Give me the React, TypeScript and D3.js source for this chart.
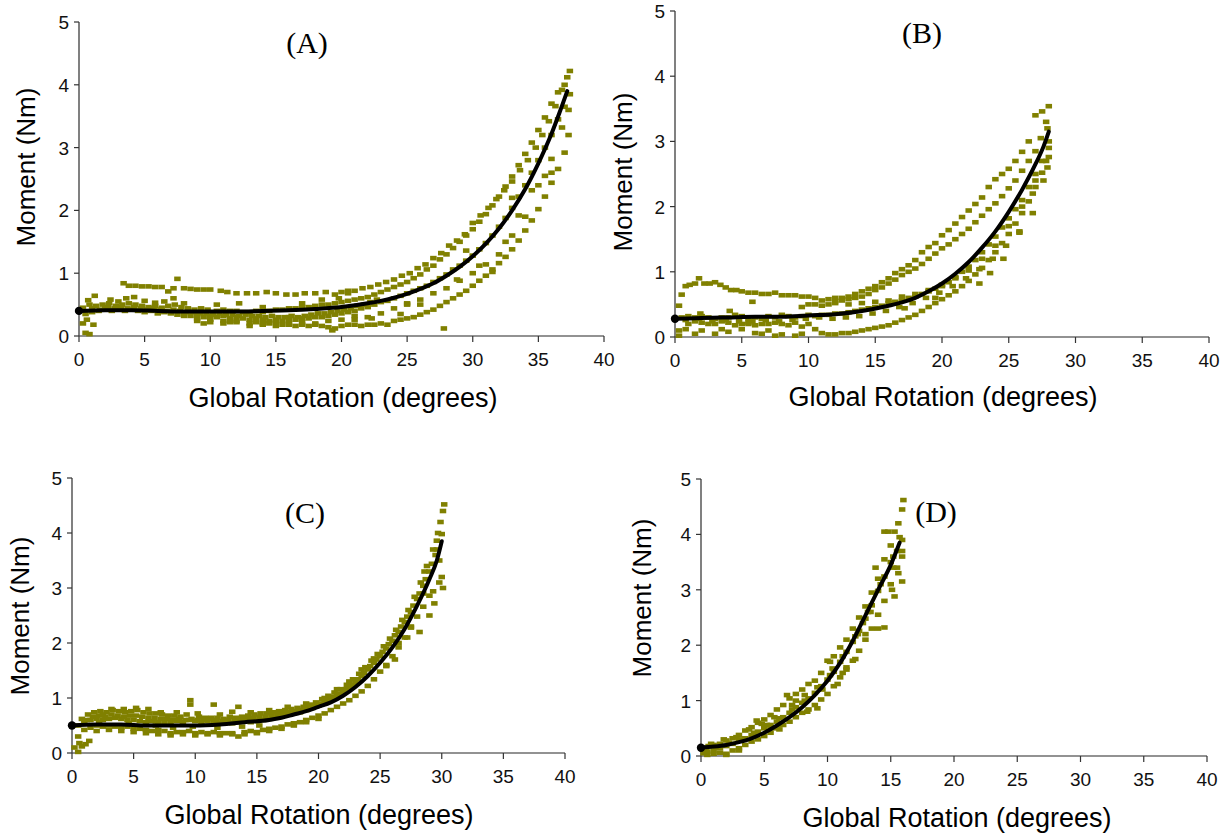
import React from "react";
import * as d3 from "d3";

type P = [number, number];

const xTickValues = [0, 5, 10, 15, 20, 25, 30, 35, 40];
const yTickValues = [0, 1, 2, 3, 4, 5];
const panelLabels = ["(A)", "(B)", "(C)", "(D)"];
const xTitle = "Global Rotation (degrees)";
const yTitle = "Moment (Nm)";

// ---------- Panel A ----------
const fitA: P[] = [[0,0.4],[2,0.41],[4,0.41],[6,0.4],[8,0.39],[10,0.39],[12,0.39],[14,0.4],[16,0.41],[18,0.43],[20,0.46],[22,0.52],[23,0.56],[24,0.61],[25,0.67],[26,0.75],[27,0.84],[28,0.96],[29,1.1],[30,1.27],[31,1.47],[32,1.71],[33,2.0],[34,2.34],[35,2.75],[36,3.22],[36.6,3.55],[37.2,3.9]];
const a1: P[] = [[3.4,0.84],[3.8,0.8],[4.3,0.8],[4.8,0.79],[5.3,0.79],[5.8,0.78],[6.3,0.78],[6.8,0.71],[7.2,0.76],[7.5,0.91],[8,0.76],[8.5,0.75],[9,0.74],[9.5,0.74],[10,0.74],[10.8,0.72],[11.3,0.7],[12,0.68],[12.8,0.68],[13.5,0.68],[14.3,0.7],[15,0.68],[15.8,0.66],[16.5,0.66],[17.2,0.68],[18,0.68],[18.8,0.7],[19.5,0.66],[20,0.7],[20.5,0.72],[21,0.72],[21.6,0.76],[22.2,0.78],[22.8,0.82],[23.4,0.86],[24,0.9],[24.6,0.96],[25.2,1.0],[25.8,1.08],[26.4,1.14],[27,1.24],[27.6,1.32],[28.2,1.44],[28.8,1.52],[29.4,1.62],[30,1.8],[30.6,1.92],[31.2,2.04],[31.8,2.18],[32.4,2.32],[33,2.46],[33.6,2.64],[34.2,2.8],[34.8,3.0],[35.3,3.2],[35.8,3.42],[36.3,3.66],[36.8,3.92],[37.2,4.12],[37.4,4.22]];
const a2: P[] = [[0.3,0.45],[0.8,0.5],[1.3,0.48],[1.8,0.5],[2.3,0.52],[2.8,0.48],[3.3,0.5],[3.8,0.52],[4.3,0.5],[4.8,0.48],[5.3,0.46],[5.8,0.48],[6.3,0.45],[6.8,0.48],[7.3,0.5],[7.8,0.46],[8.3,0.44],[8.8,0.42],[9.3,0.44],[9.8,0.42],[10.5,0.4],[11,0.42],[11.5,0.4],[12,0.4],[12.5,0.38],[13,0.38],[13.5,0.4],[14,0.38],[14.5,0.4],[15,0.42],[15.5,0.42],[16,0.44],[16.5,0.44],[17,0.46],[17.5,0.46],[18,0.48],[18.5,0.5],[19,0.5],[19.5,0.52],[20,0.54],[20.5,0.56],[21,0.58],[21.5,0.6],[22,0.62],[22.5,0.66],[23,0.7],[23.5,0.74],[24,0.78],[24.5,0.82],[25,0.86],[25.5,0.92],[26,0.98],[26.5,1.06],[27,1.12],[27.5,1.22],[28,1.3],[28.5,1.4],[29,1.5],[29.5,1.6],[30,1.7],[30.5,1.82],[31,1.94],[31.5,2.08],[32,2.22],[32.5,2.38],[33,2.54],[33.5,2.72],[34,2.9],[34.5,3.08],[35,3.28],[35.5,3.48],[36,3.7],[36.5,3.88],[37,4.0]];
const a3: P[] = [[0.5,0.35],[1,0.38],[1.5,0.4],[2,0.42],[2.5,0.4],[3,0.42],[3.5,0.4],[4,0.42],[4.5,0.4],[5,0.38],[5.5,0.4],[6,0.36],[6.5,0.38],[7,0.36],[7.5,0.34],[8,0.36],[8.5,0.32],[9,0.34],[9.5,0.3],[10,0.32],[10.5,0.3],[11,0.32],[11.5,0.28],[12,0.3],[12.5,0.28],[13,0.26],[13.5,0.28],[14,0.26],[14.5,0.24],[15,0.26],[15.5,0.24],[16,0.26],[16.5,0.26],[17,0.28],[17.5,0.28],[18,0.3],[18.5,0.3],[19,0.32],[19.5,0.34],[20,0.36],[20.5,0.38],[21,0.4],[21.5,0.44],[22,0.46],[22.5,0.5],[23,0.54],[23.5,0.56],[24,0.6],[24.5,0.64],[25,0.68],[25.5,0.72],[26,0.76],[26.5,0.8],[27,0.86],[27.5,0.92],[28,0.98],[28.5,1.06],[29,1.12],[29.5,1.2],[30,1.28],[30.5,1.38],[31,1.48],[31.5,1.6],[32,1.74],[32.5,1.88],[33,2.04],[33.5,2.22],[34,2.4],[34.5,2.6],[35,2.8],[35.5,3.0],[36,3.2],[36.5,3.45],[37,3.65],[37.4,3.85]];
const a4: P[] = [[8,0.32],[9,0.28],[10,0.26],[11,0.24],[11.5,0.22],[12,0.24],[13,0.2],[13.5,0.22],[14,0.18],[14.5,0.2],[15,0.16],[15.5,0.18],[16,0.18],[16.5,0.16],[17,0.18],[17.5,0.16],[18,0.18],[18.5,0.16],[19,0.14],[19.5,0.12],[20,0.16],[20.5,0.18],[21,0.18],[21.5,0.16],[22,0.18],[22.5,0.18],[23,0.2],[23.5,0.18],[24,0.24],[24.5,0.26],[25,0.28],[25.5,0.3],[26,0.34],[26.5,0.38],[27,0.42],[27.5,0.48],[28,0.54],[28.5,0.6],[29,0.66],[29.5,0.72],[30,0.8],[30.5,0.88],[31,0.96],[31.5,1.06],[32,1.16],[32.5,1.26],[33,1.38],[33.5,1.52],[34,1.68],[34.5,1.84],[35,2.02],[35.5,2.22],[36,2.44],[36.5,2.66],[37,2.92],[37.3,3.2]];
const a5: P[] = [[0.3,0.2],[0.5,0.05],[0.8,0.03],[0.6,0.26],[1.1,0.18],[1.2,0.64],[0.7,0.57],[2,0.46],[2.4,0.58],[3,0.55],[3.6,0.6],[4.2,0.62],[5,0.56],[5.8,0.53],[6.5,0.55],[7.2,0.6],[8,0.52],[9.5,0.2],[10.5,0.5],[12.2,0.52],[14,0.46],[16,0.3],[17,0.52],[18.5,0.58],[19.3,0.09],[21,0.32],[22.3,0.28],[27.8,0.12],[20.5,0.68],[19.8,0.6],[30.5,1.12],[31.5,1.02],[32.5,1.5],[33.5,1.92],[34.5,2.32],[36,2.82],[36.8,3.32],[33,2.2],[26,0.5],[28.8,0.9],[24.5,0.35],[25,0.52],[29.5,1.36],[35.5,2.55],[37.3,3.6]];
const a6: P[] = [[1,0.44],[1.6,0.42],[2.2,0.46],[2.7,0.44],[3.2,0.46],[3.7,0.44],[4.2,0.46],[4.7,0.44],[5.2,0.42],[5.7,0.44],[6.2,0.42],[6.7,0.4],[7.2,0.42],[7.7,0.4],[8.2,0.38],[8.7,0.38],[9.2,0.36],[9.7,0.36],[10.2,0.34],[10.7,0.36],[11.2,0.34],[11.7,0.34],[12.2,0.32],[12.7,0.34],[13.2,0.32],[13.7,0.32],[14.2,0.3],[14.7,0.32],[15.2,0.3],[15.7,0.3],[16.2,0.32],[16.7,0.3],[17.2,0.32],[17.7,0.34],[18.2,0.36],[18.7,0.36],[19.2,0.38],[19.7,0.4],[20.2,0.42],[20.7,0.44],[21.2,0.48],[21.7,0.5],[22.2,0.54],[22.7,0.58]];
const a7: P[] = [[9,0.24],[10,0.22],[11,0.2],[12,0.22],[13,0.16],[14,0.2],[15,0.22],[16,0.2],[17,0.22],[18,0.2],[19,0.24],[20,0.26],[21,0.26],[22,0.3],[23,0.36],[24,0.44],[25,0.5],[26,0.58],[27,0.68],[28,0.76],[29,0.88],[30,1.0],[31,1.14],[32,1.3],[33,1.6],[34,1.9],[35,2.4],[36,2.6]];

// ---------- Panel B ----------
const fitB: P[] = [[0,0.28],[2,0.29],[4,0.3],[6,0.31],[8,0.31],[10,0.33],[12,0.35],[14,0.4],[16,0.48],[17,0.53],[18,0.6],[19,0.7],[20,0.82],[21,0.97],[22,1.15],[23,1.37],[24,1.62],[25,1.92],[26,2.26],[27,2.65],[27.6,2.92],[28,3.15]];
const b1: P[] = [[0.3,0.48],[0.5,0.65],[0.8,0.78],[1.1,0.8],[1.5,0.82],[1.8,0.9],[2.2,0.82],[2.6,0.82],[3,0.84],[3.4,0.8],[3.8,0.76],[4.2,0.72],[4.6,0.72],[5,0.7],[5.5,0.68],[6,0.68],[6.5,0.66],[7,0.66],[7.5,0.68],[8,0.64],[8.5,0.64],[9,0.64],[9.5,0.62],[10,0.62],[10.5,0.6],[11,0.56],[11.5,0.58],[12,0.6],[12.5,0.6],[13,0.62],[13.5,0.66],[14,0.7],[14.5,0.74],[15,0.78],[15.5,0.84],[16,0.9],[16.5,0.98],[17,1.04],[17.5,1.1],[18,1.18],[18.5,1.3],[19,1.38],[19.5,1.44],[20,1.56],[20.5,1.64],[21,1.74],[21.5,1.84],[22,1.94],[22.5,2.04],[23,2.14],[23.5,2.3],[24,2.42],[24.5,2.5],[25,2.58],[25.5,2.7],[26,2.84],[26.5,3.0],[27,3.4],[27.5,3.46],[28,3.54]];
const b2: P[] = [[12,0.55],[12.5,0.56],[13,0.58],[13.5,0.6],[14,0.62],[14.5,0.66],[15,0.72],[15.5,0.76],[16,0.82],[16.5,0.88],[17,0.95],[17.5,1.0],[18,1.05],[18.5,1.12],[19,1.2],[19.5,1.28],[20,1.36],[20.5,1.42],[21,1.5],[21.5,1.58],[22,1.66],[22.5,1.76],[23,1.86],[23.5,1.96],[24,2.05],[24.5,2.16],[25,2.28],[25.5,2.4],[26,2.55],[26.5,2.7],[27,2.85],[27.4,3.05],[27.8,3.3]];
const b3: P[] = [[0.5,0.3],[1,0.32],[1.5,0.3],[2,0.32],[2.5,0.3],[3,0.28],[3.5,0.3],[4,0.3],[4.5,0.34],[5,0.32],[5.5,0.28],[6,0.3],[6.5,0.28],[7,0.32],[7.5,0.3],[8,0.34],[8.5,0.32],[9,0.3],[9.5,0.32],[10,0.34],[10.5,0.32],[11,0.34],[11.5,0.34],[12,0.36],[12.5,0.36],[13,0.38],[13.5,0.4],[14,0.42],[14.5,0.44],[15,0.46],[15.5,0.48],[16,0.52],[16.5,0.54],[17,0.56],[17.5,0.6],[18,0.62],[18.5,0.66],[19,0.7],[19.5,0.74],[20,0.8],[20.5,0.84],[21,0.92],[21.5,1.0],[22,1.08],[22.5,1.18],[23,1.3],[23.5,1.42],[24,1.54],[24.5,1.68],[25,1.82],[25.5,1.96],[26,2.1],[26.5,2.3],[27,2.5],[27.5,2.7],[28,2.9]];
const b4: P[] = [[0.3,0.1],[1,0.2],[1.5,0.24],[2,0.22],[2.5,0.2],[3,0.2],[3.5,0.24],[4,0.22],[4.5,0.18],[5,0.2],[5.5,0.22],[6,0.18],[6.5,0.2],[7,0.2],[7.5,0.22],[8,0.2],[8.5,0.18],[9,0.22],[9.5,0.16],[10,0.2],[10.5,0.12],[11,0.06],[11.5,0.04],[12,0.04],[12.5,0.06],[13,0.06],[13.5,0.08],[14,0.1],[14.5,0.12],[15,0.14],[15.5,0.16],[16,0.18],[16.5,0.22],[17,0.26],[17.5,0.3],[18,0.34],[18.5,0.4],[19,0.46],[19.5,0.52],[20,0.58],[20.5,0.64],[21,0.7],[21.5,0.78],[22,0.86],[22.5,0.96],[23,1.06],[23.5,1.18],[24,1.3],[24.5,1.44],[25,1.58],[25.5,1.74],[26,1.9],[26.5,2.08],[27,2.3],[27.5,2.52],[28,2.76]];
const b5: P[] = [[0.3,0.02],[0.8,0.12],[1.5,0.05],[2,0.1],[3,0.05],[3.5,0.12],[4,0.08],[5,0.12],[5.5,0.2],[6,0.06],[6.5,0.05],[7,0.1],[7.5,0.02],[8,0.04],[9,0.02],[9.5,0.05],[9.5,0.46],[10,0.5],[10.5,0.5],[11,0.48],[11.5,0.5],[12,0.52],[13,0.5],[14,0.52],[15,0.54],[16,0.56],[17,0.62],[18,0.66],[19,0.72],[20,0.78],[21,0.9],[22,1.02],[23,1.2],[24,1.4],[25,1.7],[26,2.0],[27,2.4],[27.8,2.7],[28,3.0],[27.9,3.2],[26.8,2.2],[25.8,1.6],[24.6,1.2],[23.6,0.98],[22.8,0.82],[5.8,0.54],[4.1,0.4],[1.9,0.36],[17.2,0.44],[19.5,0.6]];
const b6: P[] = [[0.8,0.26],[1.8,0.28],[2.8,0.24],[3.8,0.26],[4.8,0.24],[5.8,0.24],[6.8,0.26],[7.8,0.24],[8.8,0.26],[9.8,0.28],[10.8,0.3],[11.8,0.28],[12.8,0.3],[13.8,0.32],[14.8,0.36],[15.8,0.4],[16.8,0.46],[17.8,0.52],[18.8,0.6],[19.8,0.68],[20.8,0.78],[21.8,0.9],[22.8,1.04],[23.8,1.2],[24.8,1.4],[25.8,1.62],[26.8,1.9],[27.6,2.4],[27.9,2.6]];

// ---------- Panel C ----------
const fitC: P[] = [[0,0.5],[2,0.52],[4,0.52],[6,0.5],[8,0.5],[10,0.5],[12,0.52],[14,0.56],[16,0.6],[17,0.64],[18,0.7],[19,0.76],[20,0.84],[21,0.92],[22,1.04],[23,1.2],[24,1.4],[25,1.64],[26,1.92],[27,2.26],[28,2.68],[29,3.16],[29.6,3.5],[30,3.85]];
const c1: P[] = [[0.8,0.62],[1.3,0.7],[1.8,0.74],[2.3,0.76],[2.8,0.74],[3.3,0.78],[3.8,0.76],[4.3,0.74],[4.8,0.76],[5.3,0.78],[5.8,0.74],[6.3,0.72],[6.8,0.72],[7.3,0.7],[7.8,0.68],[8.3,0.68],[8.8,0.66],[9.3,0.7],[9.6,0.96],[9.6,0.88],[10.3,0.66],[10.8,0.64],[11.3,0.64],[11.5,0.88],[11.8,0.64],[12.3,0.62],[12.8,0.66],[13.3,0.64],[13.5,0.84],[13.8,0.66],[14.3,0.68],[14.8,0.7],[15.3,0.72],[15.8,0.72],[16.3,0.74],[16.8,0.76],[17.3,0.78],[17.8,0.8],[18.3,0.82],[18.8,0.84],[19.3,0.88],[19.8,0.92],[20.3,0.98],[20.8,1.04],[21.3,1.1],[21.8,1.16],[22.3,1.24],[22.8,1.34],[23.3,1.44],[23.8,1.56],[24.3,1.68],[24.8,1.8],[25.3,1.94],[25.8,2.08],[26.3,2.24],[26.8,2.42],[27.3,2.6],[27.8,2.84],[28.3,3.1],[28.8,3.4],[29.3,3.7],[29.7,4.0],[29.9,4.2],[30.1,4.4],[30.2,4.52]];
const c2: P[] = [[0.5,0.5],[1,0.55],[1.5,0.6],[2,0.62],[2.5,0.6],[3,0.62],[3.5,0.64],[4,0.62],[4.5,0.6],[5,0.6],[5.5,0.58],[6,0.56],[6.5,0.58],[7,0.56],[7.5,0.54],[8,0.56],[8.5,0.58],[9,0.56],[9.5,0.6],[10,0.58],[10.5,0.56],[11,0.58],[11.5,0.56],[12,0.54],[12.5,0.56],[13,0.54],[13.5,0.56],[14,0.58],[14.5,0.56],[15,0.58],[15.5,0.6],[16,0.62],[16.5,0.64],[17,0.66],[17.5,0.7],[18,0.72],[18.5,0.74],[19,0.78],[19.5,0.82],[20,0.86],[20.5,0.92],[21,0.98],[21.5,1.04],[22,1.1],[22.5,1.18],[23,1.28],[23.5,1.4],[24,1.52],[24.5,1.64],[25,1.76],[25.5,1.9],[26,2.04],[26.5,2.2],[27,2.38],[27.5,2.56],[28,2.8],[28.5,3.04],[29,3.3],[29.5,3.6],[30,3.98]];
const c3: P[] = [[0.5,0.3],[1,0.42],[1.5,0.46],[2,0.5],[2.5,0.48],[3,0.5],[3.5,0.48],[4,0.46],[4.5,0.48],[5,0.44],[5.5,0.44],[6,0.42],[6.5,0.4],[7,0.42],[7.5,0.4],[8,0.36],[8.5,0.38],[9,0.38],[9.5,0.4],[10,0.36],[10.5,0.38],[11,0.36],[11.5,0.38],[12,0.36],[12.5,0.36],[13,0.34],[13.5,0.3],[14,0.38],[14.5,0.4],[15,0.38],[15.5,0.42],[16,0.44],[16.5,0.46],[17,0.48],[17.5,0.52],[18,0.54],[18.5,0.56],[19,0.6],[19.5,0.64],[20,0.68],[20.5,0.72],[21,0.78],[21.5,0.84],[22,0.9],[22.5,0.96],[23,1.04],[23.5,1.12],[24,1.22],[24.5,1.34],[25,1.48],[25.5,1.6],[26,1.76],[26.5,1.92],[27,2.1],[27.5,2.28],[28,2.48],[28.5,2.66],[29,2.86],[29.4,2.72],[29.8,3.1],[30,3.2]];
const c4: P[] = [[0.2,0.1],[0.5,0.02],[0.8,0.12],[1.1,0.16],[1.4,0.22],[0.6,0.18],[2.5,0.7],[3.2,0.8],[4.2,0.8],[5.2,0.82],[6.2,0.8],[7.2,0.74],[8.5,0.74],[10.2,0.72],[12,0.7],[13,0.75],[14.5,0.74],[16,0.78],[17.5,0.84],[19,0.9],[20.5,1.0],[21.5,1.16],[22.5,1.3],[23.5,1.52],[24.5,1.72],[25.5,1.58],[26.5,2.0],[27.5,2.3],[28.2,2.2],[28.5,2.9],[29,2.5],[29.8,3.5],[30.1,3.0],[6.8,0.5],[8.2,0.46],[9.8,0.48],[11.8,0.46],[13.8,0.48],[15.2,0.5],[2.2,0.56],[4.6,0.54],[28.6,3.3],[27.2,2.1],[26.2,1.7],[29.6,3.86],[29.3,2.94]];
const c5: P[] = [[1.2,0.6],[1.7,0.66],[2.2,0.68],[2.7,0.66],[3.2,0.7],[3.7,0.68],[4.2,0.66],[4.7,0.68],[5.2,0.68],[5.7,0.66],[6.2,0.64],[6.7,0.64],[7.2,0.62],[7.7,0.62],[8.2,0.6],[8.7,0.62],[9.2,0.6],[9.7,0.62],[10.2,0.6],[10.7,0.6],[11.2,0.62],[11.7,0.6],[12.2,0.58],[12.7,0.6],[13.2,0.6],[13.7,0.62],[14.2,0.62],[14.7,0.64],[15.2,0.66],[15.7,0.66],[16.2,0.68],[16.7,0.7],[17.2,0.72],[17.7,0.74],[18.2,0.76],[18.7,0.78],[19.2,0.82],[19.7,0.86],[20.2,0.9],[20.7,0.96],[21.2,1.02],[21.7,1.08],[22.2,1.16],[22.7,1.24],[23.2,1.34],[23.7,1.46],[24.2,1.58],[24.7,1.7],[25.2,1.84],[25.7,1.98],[26.2,2.14],[26.7,2.3],[27.2,2.48],[27.7,2.68],[28.2,2.9],[28.7,3.16],[29.2,3.44],[29.6,3.7]];
const c6: P[] = [[2,0.4],[3,0.42],[4,0.4],[5,0.38],[6,0.36],[7,0.34],[8,0.32],[9,0.34],[10,0.32],[11,0.34],[12,0.32],[13,0.36],[14,0.34],[15,0.36],[16,0.4],[17,0.44],[18,0.5],[19,0.56],[20,0.62]];

// ---------- Panel D ----------
const fitD: P[] = [[0,0.15],[1,0.17],[2,0.2],[3,0.25],[4,0.32],[5,0.42],[6,0.55],[7,0.7],[8,0.88],[9,1.1],[10,1.36],[11,1.68],[12,2.08],[13,2.54],[14,3.0],[15,3.45],[15.7,3.85]];
const d1: P[] = [[0.2,0.12],[0.6,0.18],[1,0.2],[1.5,0.22],[2,0.28],[2.5,0.32],[3,0.38],[3.5,0.46],[4,0.52],[4.5,0.6],[5,0.66],[5.5,0.74],[6,0.84],[6.5,0.92],[7,1.04],[7.5,1.12],[8,1.2],[8.5,1.3],[9,1.36],[9.5,1.5],[10,1.72],[10.5,1.8],[11,1.96],[11.5,2.1],[12,2.3],[12.5,2.5],[13,2.7],[13.5,2.95],[14,3.2],[14.5,3.55],[15,3.8],[15.3,4.05],[15.6,4.2],[15.9,4.45],[16,4.62]];
const d2: P[] = [[0.2,0.05],[0.5,0.08],[1,0.1],[1.5,0.14],[2,0.18],[2.5,0.22],[3,0.28],[3.5,0.32],[4,0.38],[4.5,0.44],[5,0.5],[5.5,0.56],[6,0.62],[6.5,0.7],[7,0.78],[7.5,0.88],[8,0.96],[8.5,1.04],[9,1.14],[9.5,1.26],[10,1.38],[10.5,1.52],[11,1.7],[11.5,1.88],[12,2.06],[12.5,2.26],[13,2.48],[13.5,2.72],[14,2.98],[14.5,3.24],[15,3.5],[15.5,3.7],[15.9,3.9]];
const d3s: P[] = [[0.5,0.02],[1,0.04],[1.5,0.06],[2,0.04],[2.5,0.1],[3,0.14],[3.5,0.2],[4,0.26],[4.5,0.3],[5,0.36],[5.5,0.42],[6,0.5],[6.5,0.56],[7,0.62],[7.5,0.7],[8,0.78],[8.5,0.84],[9,0.92],[9.5,1.02],[10,1.12],[10.5,1.26],[11,1.42],[11.5,1.56],[12,1.72],[12.5,1.9],[13,2.1],[13.5,2.3],[14,2.55],[14.5,2.8],[15,3.1],[15.5,3.4],[15.9,3.7]];
const d4: P[] = [[2,0.02],[3,0.1],[4.4,0.64],[5.5,0.5],[6.8,1.1],[7.5,1.0],[8.4,0.8],[9.2,0.86],[10.2,1.7],[10.8,1.3],[11.5,1.6],[12.2,1.75],[12.4,2.2],[13,2.2],[14,2.3],[14.5,2.32],[14.5,4.05],[15.3,2.88],[15.6,3.3],[15.9,3.15],[14.8,4.05],[15.1,3.0],[15.9,3.6],[0.8,0.22],[1.8,0.3],[2.8,0.34],[3.8,0.48],[4.8,0.58],[5.8,0.7],[6.2,0.48],[7.2,0.92],[8.2,1.1],[9.6,1.2],[10.4,1.58],[11.2,1.5],[12.8,2.4],[13.4,2.6],[13.8,3.4],[15.2,3.6],[15.7,3.95]];
const d5: P[] = [[0.4,0.15],[1.2,0.15],[2.2,0.24],[3.2,0.3],[4.2,0.42],[5.2,0.56],[6.2,0.68],[7.2,0.84],[8.2,1.0],[9.2,1.24],[10.2,1.46],[11.2,1.8],[12.2,2.16],[13.2,2.6],[14.2,3.1],[15.2,3.4]];

const panels = [
  { label: panelLabels[0], series: [a7, a4, a3, a6, a5, a2, a1], fit: fitA, x0: 79, x1: 604, y0: 336, y1: 22, lx: 307, ly: 53, xtx: 343, xty: 407, ytx: 35, yty: 167 },
  { label: panelLabels[1], series: [b5, b4, b6, b3, b2, b1], fit: fitB, x0: 675, x1: 1209, y0: 337, y1: 11, lx: 922, ly: 43, xtx: 943, xty: 406, ytx: 632, yty: 172 },
  { label: panelLabels[2], series: [c4, c6, c3, c2, c5, c1], fit: fitC, x0: 72, x1: 565, y0: 753, y1: 478, lx: 305, ly: 523, xtx: 319, xty: 824, ytx: 29, yty: 616 },
  { label: panelLabels[3], series: [d4, d3s, d5, d2, d1], fit: fitD, x0: 701, x1: 1207, y0: 756, y1: 479, lx: 936, ly: 522, xtx: 957, xty: 827, ytx: 651, yty: 598 },
];

const OLIVE = "#808000";
const SANS = "Arial, 'Liberation Sans', sans-serif";

function Panel({ cfg }: { cfg: (typeof panels)[number] }) {
  const x = d3.scaleLinear().domain([0, 40]).range([cfg.x0, cfg.x1]);
  const y = d3.scaleLinear().domain([0, 5]).range([cfg.y0, cfg.y1]);
  const line = d3
    .line<P>()
    .x((d) => x(d[0]))
    .y((d) => y(d[1]))
    .curve(d3.curveMonotoneX);
  const mw = 6.5;
  const mh = 4.6;
  return (
    <g>
      <line x1={cfg.x0} x2={cfg.x1} y1={cfg.y0} y2={cfg.y0} stroke="#6e6e6e" strokeWidth={1.6} />
      <line x1={cfg.x0} x2={cfg.x0} y1={cfg.y0} y2={cfg.y1} stroke="#4a4a4a" strokeWidth={1.4} />
      {xTickValues.map((t) => (
        <g key={"xt" + t}>
          <line x1={x(t)} x2={x(t)} y1={cfg.y0} y2={cfg.y0 + 6} stroke="#333" strokeWidth={1.2} />
          <text x={x(t)} y={cfg.y0 + 30} textAnchor="middle" fontFamily={SANS} fontSize={19} fill="#111">
            {t}
          </text>
        </g>
      ))}
      {yTickValues.map((t) => (
        <g key={"yt" + t}>
          <line x1={cfg.x0 - 5} x2={cfg.x0} y1={y(t)} y2={y(t)} stroke="#333" strokeWidth={1.2} />
          <text x={cfg.x0 - 10} y={y(t) + 7} textAnchor="end" fontFamily={SANS} fontSize={19} fill="#111">
            {t}
          </text>
        </g>
      ))}
      {cfg.series.map((s, si) =>
        s.map((p, i) => (
          <rect
            key={si + "-" + i}
            x={x(p[0]) - mw / 2}
            y={y(p[1]) - mh / 2}
            width={mw}
            height={mh}
            fill={OLIVE}
          />
        ))
      )}
      <path d={line(cfg.fit) || ""} fill="none" stroke="#000" strokeWidth={4} strokeLinejoin="round" strokeLinecap="round" />
      <circle cx={x(cfg.fit[0][0])} cy={y(cfg.fit[0][1])} r={4.2} fill="#000" />
      <text x={cfg.lx} y={cfg.ly} textAnchor="middle" fontFamily="'Times New Roman', 'Liberation Serif', serif" fontSize={30} fill="#000">
        {cfg.label}
      </text>
      <text x={cfg.xtx} y={cfg.xty} textAnchor="middle" fontFamily={SANS} fontSize={27} fill="#000">
        {xTitle}
      </text>
      <text
        transform={`translate(${cfg.ytx},${cfg.yty}) rotate(-90)`}
        textAnchor="middle"
        fontFamily={SANS}
        fontSize={26}
        fill="#000"
      >
        {yTitle}
      </text>
    </g>
  );
}

export default function App() {
  return (
    <svg
      width={1223}
      height={834}
      viewBox="0 0 1223 834"
      style={{ position: "absolute", left: 0, top: 0, background: "#fff" }}
    >
      <rect x={0} y={0} width={1223} height={834} fill="#fff" />
      {panels.map((p) => (
        <Panel key={p.label} cfg={p} />
      ))}
    </svg>
  );
}
